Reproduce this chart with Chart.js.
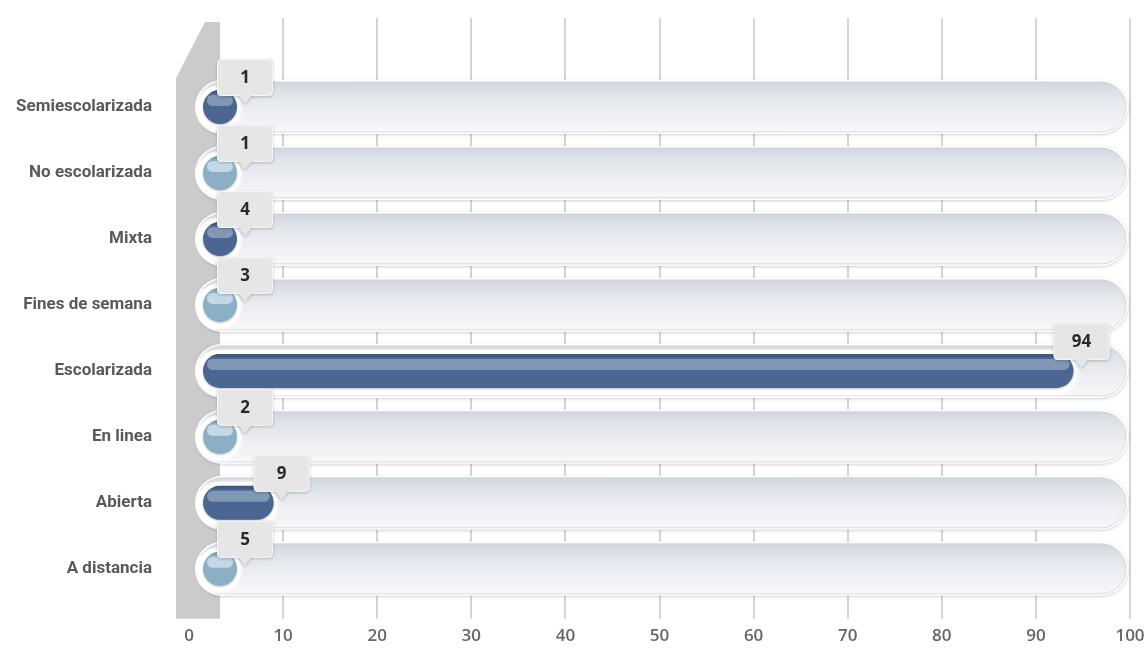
<!DOCTYPE html>
<html>
<head>
<meta charset="utf-8">
<title>Modalidad</title>
<script src="https://cdn.jsdelivr.net/npm/chart.js@4/dist/chart.umd.min.js"></script>
<style>
  html, body { margin: 0; padding: 0; background: #ffffff; }
  #wrap { position: relative; width: 1147px; height: 649px; }
</style>
</head>
<body>
<div id="wrap"><canvas id="c" width="1147" height="649"></canvas></div>
<script>
// Categories and their counts
const categories = ['Semiescolarizada', 'No escolarizada', 'Mixta', 'Fines de semana', 'Escolarizada', 'En linea', 'Abierta', 'A distancia'];
const counts = [1, 1, 4, 3, 94, 2, 9, 5];
const tickValues = [0, 10, 20, 30, 40, 50, 60, 70, 80, 90, 100];
const axisMax = 100;

// Alternating bar tones: [base, highlight, top edge]
const tones = [
  ['#4b6690', '#8098b5', '#3f5880'],
  ['#8bb0c6', '#c3d8e4', '#7aa1b8']
];

function pill(ctx, x0, y0, x1, y1) {
  const r = Math.min((y1 - y0) / 2, (x1 - x0) / 2);
  const cy = (y0 + y1) / 2;
  ctx.beginPath();
  ctx.moveTo(x0 + r, y0);
  ctx.lineTo(x1 - r, y0);
  ctx.arc(x1 - r, cy, r, -Math.PI / 2, Math.PI / 2);
  ctx.lineTo(x0 + r, y1);
  ctx.arc(x0 + r, cy, r, Math.PI / 2, Math.PI * 1.5);
  ctx.closePath();
}

function roundRect(ctx, x, y, w, h, r) {
  ctx.beginPath();
  ctx.moveTo(x + r, y);
  ctx.lineTo(x + w - r, y);
  ctx.quadraticCurveTo(x + w, y, x + w, y + r);
  ctx.lineTo(x + w, y + h - r);
  ctx.quadraticCurveTo(x + w, y + h, x + w - r, y + h);
  ctx.lineTo(x + r, y + h);
  ctx.quadraticCurveTo(x, y + h, x, y + h - r);
  ctx.lineTo(x, y + r);
  ctx.quadraticCurveTo(x, y, x + r, y);
  ctx.closePath();
}

// Geometry of a rounded bar: starts just right of zero, at least a full circle long
function barSpan(chart, el) {
  const xs = chart.scales.x;
  const h = el.height;
  const start = xs.getPixelForValue(0) + 14;
  const end = Math.max(el.x, start + h);
  return { start, end, h };
}

const scenePlugin = {
  id: 'scene',
  beforeDatasetsDraw(chart) {
    const ctx = chart.ctx;
    const xs = chart.scales.x, ys = chart.scales.y;
    const area = chart.chartArea;
    ctx.save();

    // grid lines on the back wall, running down into tick marks
    ctx.strokeStyle = '#d4d4d4';
    ctx.lineWidth = 2;
    tickValues.forEach(v => {
      if (v === 0) return;
      const x = Math.round(xs.getPixelForValue(v));
      ctx.beginPath();
      ctx.moveTo(x, 18);
      ctx.lineTo(x, area.bottom + 17);
      ctx.stroke();
    });

    // side wall
    const x0 = xs.getPixelForValue(0);
    ctx.fillStyle = '#cbcbcb';
    ctx.beginPath();
    ctx.moveTo(x0 - 13, 78);
    ctx.lineTo(x0 + 16, 22);
    ctx.lineTo(x0 + 31, 22);
    ctx.lineTo(x0 + 31, area.bottom + 17);
    ctx.lineTo(x0 - 13, area.bottom + 17);
    ctx.closePath();
    ctx.fill();

    // tracks
    const meta = chart.getDatasetMeta(0);
    const left = x0 + 6;
    const right = xs.getPixelForValue(axisMax) - 2;
    categories.forEach((c, i) => {
      const y = ys.getPixelForValue(i);
      // outer white rim with soft shadow
      ctx.save();
      ctx.shadowColor = 'rgba(0,0,0,0.18)';
      ctx.shadowBlur = 3;
      ctx.shadowOffsetY = 1;
      ctx.fillStyle = '#ffffff';
      pill(ctx, left, y - 27, right, y + 27);
      ctx.fill();
      ctx.restore();
      // inner shaded body
      const g = ctx.createLinearGradient(0, y - 25, 0, y + 25);
      g.addColorStop(0, '#d2d7df');
      g.addColorStop(0.3, '#e2e6ec');
      g.addColorStop(0.65, '#eef0f4');
      g.addColorStop(1, '#f7f8fa');
      ctx.fillStyle = g;
      pill(ctx, left + 2, y - 25, right - 2, y + 25);
      ctx.fill();
      ctx.strokeStyle = 'rgba(190,196,206,0.6)';
      ctx.lineWidth = 1;
      ctx.stroke();

      // white cup around the bar
      const el = meta.data[i];
      const s = barSpan(chart, el);
      ctx.save();
      ctx.shadowColor = 'rgba(255,255,255,0.9)';
      ctx.shadowBlur = 4;
      ctx.fillStyle = 'rgba(255,255,255,0.95)';
      pill(ctx, left + 1, y - 21, s.end + 4, y + 24);
      ctx.fill();
      ctx.restore();
    });
    ctx.restore();
  },
  afterDatasetsDraw(chart) {
    const ctx = chart.ctx;
    const meta = chart.getDatasetMeta(0);
    ctx.save();
    meta.data.forEach((el, i) => {
      const t = tones[i % 2];
      const { start, end, h } = barSpan(chart, el);
      const y = el.y;
      const top = y - h / 2, bot = y + h / 2;

      // body
      ctx.save();
      ctx.shadowColor = 'rgba(0,0,0,0.25)';
      ctx.shadowBlur = 2;
      ctx.shadowOffsetY = 1;
      ctx.fillStyle = t[0];
      pill(ctx, start, top, end, bot);
      ctx.fill();
      ctx.restore();

      // glossy highlight band
      ctx.save();
      pill(ctx, start, top, end, bot);
      ctx.clip();
      ctx.fillStyle = t[2];
      ctx.fillRect(start, top, end - start, 3);
      ctx.fillStyle = t[1];
      pill(ctx, start + 4, top + 5, end - 4, y - 1);
      ctx.fill();
      ctx.restore();

      // value callout
      const cx = end + 8;
      const bw = 56, bh = 37;
      const by = y - 11 - bh;
      ctx.save();
      ctx.shadowColor = 'rgba(0,0,0,0.22)';
      ctx.shadowBlur = 3;
      ctx.shadowOffsetY = 1;
      ctx.fillStyle = '#e6e6e6';
      roundRect(ctx, cx - bw / 2, by, bw, bh, 4);
      ctx.fill();
      ctx.beginPath();
      ctx.moveTo(cx - 7, by + bh - 1);
      ctx.lineTo(cx, y - 3);
      ctx.lineTo(cx + 7, by + bh - 1);
      ctx.closePath();
      ctx.fill();
      ctx.restore();
      ctx.strokeStyle = '#f6f6f6';
      ctx.lineWidth = 1;
      roundRect(ctx, cx - bw / 2 + 0.5, by + 0.5, bw - 1, bh - 1, 4);
      ctx.stroke();
      ctx.fillStyle = '#e6e6e6';
      ctx.fillRect(cx - 7, by + bh - 2, 14, 2);

      ctx.fillStyle = '#2a2a2a';
      ctx.font = '700 17px "Open Sans", sans-serif';
      ctx.textAlign = 'center';
      ctx.textBaseline = 'middle';
      ctx.fillText(String(counts[i]), cx, by + bh / 2 + 1);
    });
    ctx.restore();
  }
};

new Chart(document.getElementById('c'), {
  type: 'bar',
  data: {
    labels: categories,
    datasets: [{
      data: counts,
      backgroundColor: 'rgba(0,0,0,0)',
      borderWidth: 0,
      barThickness: 34
    }]
  },
  options: {
    indexAxis: 'y',
    responsive: false,
    animation: false,
    devicePixelRatio: 1,
    layout: { padding: { top: 74, right: 17, left: 0, bottom: 0 } },
    plugins: {
      legend: { display: false },
      tooltip: { enabled: false }
    },
    scales: {
      x: {
        type: 'linear',
        position: 'bottom',
        min: 0,
        max: axisMax,
        grid: { display: false, drawTicks: false },
        border: { display: false },
        afterBuildTicks(scale) { scale.ticks = tickValues.map(v => ({ value: v })); },
        afterFit(scale) {
          scale.height = 44;
          scale.paddingLeft = 0;
          scale.paddingRight = 0;
        },
        ticks: {
          color: '#666666',
          padding: 24,
          maxRotation: 0,
          autoSkip: false,
          font: { family: '"Open Sans", sans-serif', size: 17, weight: '600' }
        }
      },
      y: {
        type: 'category',
        offset: true,
        grid: { display: false, drawTicks: false },
        border: { display: false },
        afterFit(scale) { scale.width = 189; },
        ticks: {
          color: '#595959',
          padding: 37,
          font: { family: 'Roboto, sans-serif', size: 17, weight: 'bold' }
        }
      }
    }
  },
  plugins: [scenePlugin]
});
</script>
</body>
</html>
